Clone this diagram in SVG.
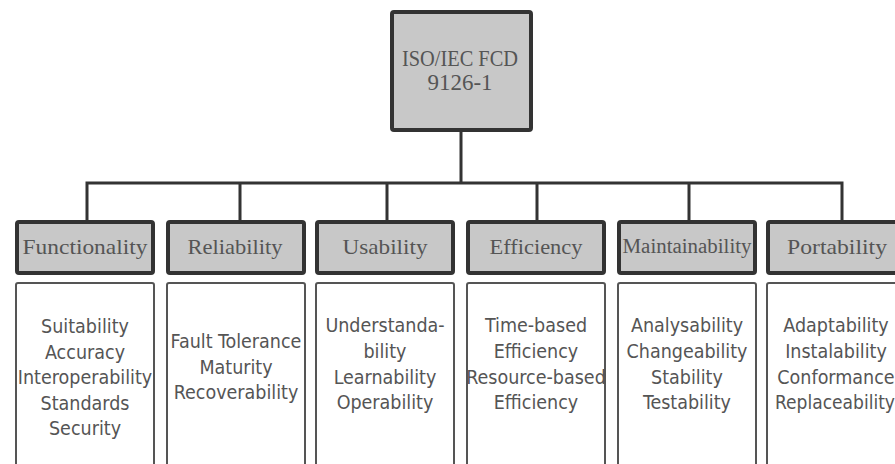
<svg xmlns="http://www.w3.org/2000/svg" width="895" height="464" viewBox="0 0 895 464">
<style>
.root{fill:#c8c8c8;stroke:#333;stroke-width:4}
.hdr{fill:#c8c8c8;stroke:#333;stroke-width:4}
.body{fill:#fff;stroke:#555;stroke-width:2}
.ht{font-family:"Liberation Serif",serif;font-size:22px;fill:#555;text-anchor:middle}
.rt{font-size:23px}
.bt{font-family:"DejaVu Sans Condensed","DejaVu Sans",sans-serif;font-stretch:condensed;font-size:19.5px;fill:#555;text-anchor:middle}
.conn{fill:none;stroke:#333;stroke-width:3}
</style>
<rect width="895" height="464" fill="#fff"/>
<g id="connectors">
<path class="conn" d="M461 132V183M87 220V183H842V220M240 183V220M387 183V220M537 183V220M689 183V220"/>
</g>
<g id="root">
<rect class="root" x="392" y="12" width="139" height="118" rx="2"/>
<text class="ht rt" x="460" y="66" textLength="116" lengthAdjust="spacingAndGlyphs">ISO/IEC FCD</text>
<text class="ht rt" x="460" y="90" textLength="65" lengthAdjust="spacingAndGlyphs">9126-1</text>
</g>
<g id="functionality">
<rect class="hdr" x="17" y="222" width="136" height="51" rx="2"/>
<text class="ht" x="85" y="254" textLength="125" lengthAdjust="spacingAndGlyphs">Functionality</text>
<rect class="body" x="16" y="283" width="138" height="190" rx="2"/>
<text class="bt" x="85" y="333">Suitability</text>
<text class="bt" x="85" y="359">Accuracy</text>
<text class="bt" x="85" y="384">Interoperability</text>
<text class="bt" x="85" y="410">Standards</text>
<text class="bt" x="85" y="435">Security</text>
</g>
<g id="reliability">
<rect class="hdr" x="168" y="222" width="136" height="51" rx="2"/>
<text class="ht" x="235" y="254" textLength="95" lengthAdjust="spacingAndGlyphs">Reliability</text>
<rect class="body" x="167" y="283" width="138" height="190" rx="2"/>
<text class="bt" x="236" y="348">Fault Tolerance</text>
<text class="bt" x="236" y="374">Maturity</text>
<text class="bt" x="236" y="399">Recoverability</text>
</g>
<g id="usability">
<rect class="hdr" x="317" y="222" width="136" height="51" rx="2"/>
<text class="ht" x="385" y="254" textLength="85" lengthAdjust="spacingAndGlyphs">Usability</text>
<rect class="body" x="316" y="283" width="138" height="190" rx="2"/>
<text class="bt" x="385" y="332">Understanda-</text>
<text class="bt" x="385" y="358">bility</text>
<text class="bt" x="385" y="384">Learnability</text>
<text class="bt" x="385" y="409">Operability</text>
</g>
<g id="efficiency">
<rect class="hdr" x="468" y="222" width="136" height="51" rx="2"/>
<text class="ht" x="536" y="254" textLength="93" lengthAdjust="spacingAndGlyphs">Efficiency</text>
<rect class="body" x="467" y="283" width="138" height="190" rx="2"/>
<text class="bt" x="536" y="332">Time-based</text>
<text class="bt" x="536" y="358">Efficiency</text>
<text class="bt" x="536" y="384">Resource-based</text>
<text class="bt" x="536" y="409">Efficiency</text>
</g>
<g id="maintainability">
<rect class="hdr" x="619" y="222" width="136" height="51" rx="2"/>
<text class="ht" x="687" y="253" textLength="129" lengthAdjust="spacingAndGlyphs" style="font-size:20px">Maintainability</text>
<rect class="body" x="618" y="283" width="138" height="190" rx="2"/>
<text class="bt" x="687" y="332">Analysability</text>
<text class="bt" x="687" y="358">Changeability</text>
<text class="bt" x="687" y="384">Stability</text>
<text class="bt" x="687" y="409">Testability</text>
</g>
<g id="portability">
<rect class="hdr" x="768" y="222" width="136" height="51" rx="2"/>
<text class="ht" x="837" y="254" textLength="100" lengthAdjust="spacingAndGlyphs">Portability</text>
<rect class="body" x="767" y="283" width="138" height="190" rx="2"/>
<text class="bt" x="836" y="332">Adaptability</text>
<text class="bt" x="836" y="358">Instalability</text>
<text class="bt" x="836" y="384">Conformance</text>
<text class="bt" x="835" y="409" style="font-size:19px">Replaceability</text>
</g>
</svg>
